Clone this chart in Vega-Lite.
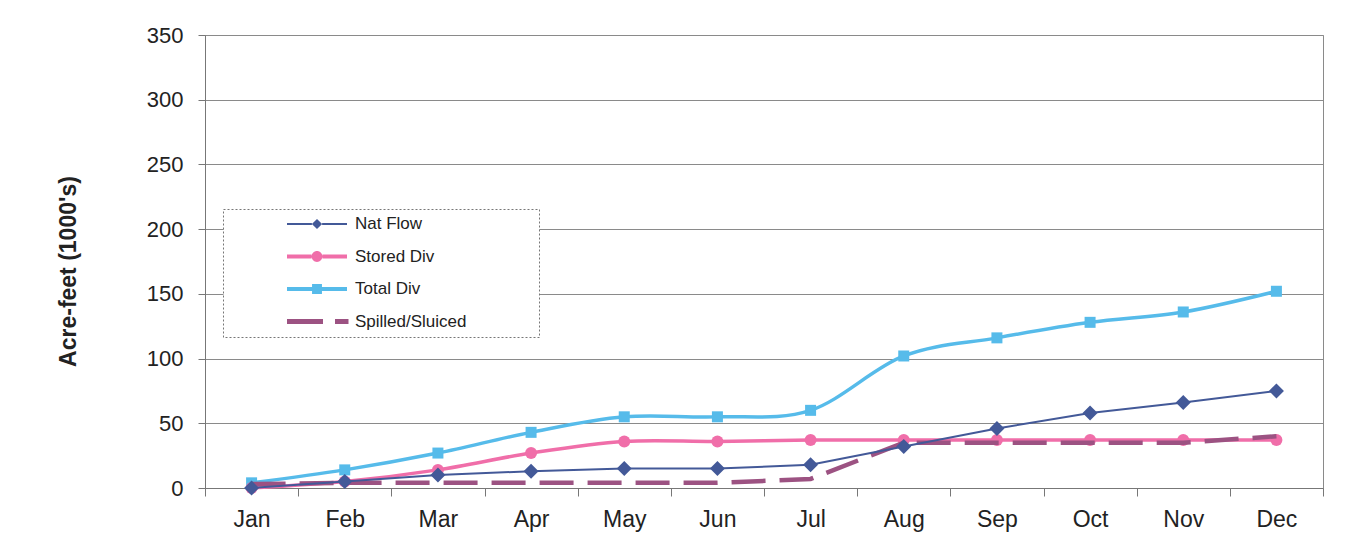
{
  "$schema": "https://vega.github.io/schema/vega-lite/v6.json",
  "width": 1118,
  "height": 453,
  "autosize": {"type": "none"},
  "padding": {"left": 205, "top": 35, "right": 24, "bottom": 67},
  "background": "white",
  "config": {
    "view": {"stroke": "#8a8a8a", "strokeWidth": 1},
    "font": "Liberation Sans"
  },
  "data": {
    "values": [
      {"month": "Jan", "series": "Nat Flow", "value": 0},
      {"month": "Feb", "series": "Nat Flow", "value": 5},
      {"month": "Mar", "series": "Nat Flow", "value": 10},
      {"month": "Apr", "series": "Nat Flow", "value": 13},
      {"month": "May", "series": "Nat Flow", "value": 15},
      {"month": "Jun", "series": "Nat Flow", "value": 15},
      {"month": "Jul", "series": "Nat Flow", "value": 18},
      {"month": "Aug", "series": "Nat Flow", "value": 32},
      {"month": "Sep", "series": "Nat Flow", "value": 46},
      {"month": "Oct", "series": "Nat Flow", "value": 58},
      {"month": "Nov", "series": "Nat Flow", "value": 66},
      {"month": "Dec", "series": "Nat Flow", "value": 75},
      {"month": "Jan", "series": "Stored Div", "value": 0},
      {"month": "Feb", "series": "Stored Div", "value": 5},
      {"month": "Mar", "series": "Stored Div", "value": 14},
      {"month": "Apr", "series": "Stored Div", "value": 27},
      {"month": "May", "series": "Stored Div", "value": 36},
      {"month": "Jun", "series": "Stored Div", "value": 36},
      {"month": "Jul", "series": "Stored Div", "value": 37},
      {"month": "Aug", "series": "Stored Div", "value": 37},
      {"month": "Sep", "series": "Stored Div", "value": 37},
      {"month": "Oct", "series": "Stored Div", "value": 37},
      {"month": "Nov", "series": "Stored Div", "value": 37},
      {"month": "Dec", "series": "Stored Div", "value": 37},
      {"month": "Jan", "series": "Total Div", "value": 4},
      {"month": "Feb", "series": "Total Div", "value": 14},
      {"month": "Mar", "series": "Total Div", "value": 27},
      {"month": "Apr", "series": "Total Div", "value": 43},
      {"month": "May", "series": "Total Div", "value": 55},
      {"month": "Jun", "series": "Total Div", "value": 55},
      {"month": "Jul", "series": "Total Div", "value": 60},
      {"month": "Aug", "series": "Total Div", "value": 102},
      {"month": "Sep", "series": "Total Div", "value": 116},
      {"month": "Oct", "series": "Total Div", "value": 128},
      {"month": "Nov", "series": "Total Div", "value": 136},
      {"month": "Dec", "series": "Total Div", "value": 152},
      {"month": "Jan", "series": "Spilled/Sluiced", "value": 3},
      {"month": "Feb", "series": "Spilled/Sluiced", "value": 4},
      {"month": "Mar", "series": "Spilled/Sluiced", "value": 4},
      {"month": "Apr", "series": "Spilled/Sluiced", "value": 4},
      {"month": "May", "series": "Spilled/Sluiced", "value": 4},
      {"month": "Jun", "series": "Spilled/Sluiced", "value": 4},
      {"month": "Jul", "series": "Spilled/Sluiced", "value": 7},
      {"month": "Aug", "series": "Spilled/Sluiced", "value": 35},
      {"month": "Sep", "series": "Spilled/Sluiced", "value": 35},
      {"month": "Oct", "series": "Spilled/Sluiced", "value": 35},
      {"month": "Nov", "series": "Spilled/Sluiced", "value": 35},
      {"month": "Dec", "series": "Spilled/Sluiced", "value": 40}
    ]
  },
  "encoding": {
    "x": {
      "field": "month",
      "type": "ordinal",
      "sort": ["Jan", "Feb", "Mar", "Apr", "May", "Jun", "Jul", "Aug", "Sep", "Oct", "Nov", "Dec"],
      "bandPosition": 0.5,
      "scale": {"type": "band", "paddingInner": 0, "paddingOuter": 0},
      "axis": {
        "title": null,
        "labelAngle": 0,
        "tickBand": "extent",
        "labelFontSize": 23,
        "labelColor": "#222",
        "labelPadding": 12,
        "tickSize": 8,
        "tickColor": "#777",
        "domainColor": "#777",
        "grid": false
      }
    },
    "y": {
      "field": "value",
      "type": "quantitative",
      "scale": {"domain": [0, 350], "nice": false},
      "axis": {
        "title": "Acre-feet (1000's)",
        "titleFontSize": 23,
        "titleFontWeight": "bold",
        "titleColor": "#222",
        "titleX": -125,
        "titleY": 236,
        "values": [0, 50, 100, 150, 200, 250, 300, 350],
        "labelFontSize": 22,
        "labelColor": "#222",
        "labelPadding": 15,
        "tickSize": 7,
        "tickColor": "#777",
        "domainColor": "#777",
        "gridColor": "#8a8a8a",
        "gridOpacity": 1
      }
    }
  },
  "layer": [
    {
      "transform": [{"filter": "datum.series === 'Total Div'"}],
      "mark": {"type": "line", "color": "#56bbea", "strokeWidth": 3.5, "interpolate": "cardinal"}
    },
    {
      "transform": [{"filter": "datum.series === 'Total Div'"}],
      "mark": {"type": "point", "shape": "square", "filled": true, "opacity": 1, "color": "#56bbea", "size": 121}
    },
    {
      "transform": [{"filter": "datum.series === 'Stored Div'"}],
      "mark": {"type": "line", "color": "#f06ea9", "strokeWidth": 3.5, "interpolate": "cardinal"}
    },
    {
      "transform": [{"filter": "datum.series === 'Stored Div'"}],
      "mark": {"type": "point", "shape": "circle", "filled": true, "opacity": 1, "color": "#f06ea9", "size": 144}
    },
    {
      "transform": [{"filter": "datum.series === 'Spilled/Sluiced'"}],
      "mark": {"type": "line", "color": "#9c5282", "strokeWidth": 4.5, "strokeDash": [34, 14]}
    },
    {
      "transform": [{"filter": "datum.series === 'Nat Flow'"}],
      "mark": {"type": "line", "color": "#435998", "strokeWidth": 2}
    },
    {
      "transform": [{"filter": "datum.series === 'Nat Flow'"}],
      "mark": {"type": "point", "shape": "diamond", "filled": true, "opacity": 1, "color": "#435998", "size": 225}
    },
    {
      "mark": {"type": "point", "filled": true, "opacity": 0},
      "encoding": {
        "color": {
          "field": "series",
          "type": "nominal",
          "scale": {
            "domain": ["Nat Flow", "Stored Div", "Total Div", "Spilled/Sluiced"],
            "range": ["#435998", "#f06ea9", "#56bbea", "#9c5282"]
          },
          "legend": {
            "title": null,
            "orient": "none",
            "legendX": 18,
            "legendY": 174,
            "padding": 6,
            "rowPadding": 14.5,
            "clipHeight": 18,
            "symbolSize": 3600,
            "symbolOpacity": 1,
            "symbolStrokeWidth": 0,
            "symbolOffset": 58,
            "labelOffset": 8,
            "labelFontSize": 17,
            "labelLimit": 400,
            "labelColor": "#222",
            "labelExpr": "datum.label + '\u00a0\u00a0\u00a0\u00a0\u00a0\u00a0\u00a0\u00a0\u00a0\u00a0\u00a0\u00a0\u00a0\u00a0\u200b'",
            "strokeColor": "#777",
            "fillColor": "white",
            "encode": {"legend": {"update": {"strokeDash": {"value": [2, 2]}}}}
          }
        },
        "shape": {
          "field": "series",
          "type": "nominal",
          "scale": {
            "domain": ["Nat Flow", "Stored Div", "Total Div", "Spilled/Sluiced"],
            "range": [
              "M-1,-0.035H-0.17V0.035H-1Z M0.17,-0.035H1V0.035H0.17Z M0,-0.17L0.17,0L0,0.17L-0.17,0Z",
              "M-1,-0.065H-0.18V0.065H-1Z M0.18,-0.065H1V0.065H0.18Z M-0.18,0A0.18,0.18 0 1,0 0.18,0A0.18,0.18 0 1,0 -0.18,0Z",
              "M-1,-0.065H-0.165V0.065H-1Z M0.165,-0.065H1V0.065H0.165Z M-0.165,-0.165H0.165V0.165H-0.165Z",
              "M-1,-0.08H0.2V0.08H-1Z M0.6,-0.08H1.05V0.08H0.6Z"
            ]
          },
          "legend": {
            "title": null,
            "orient": "none",
            "legendX": 18,
            "legendY": 174,
            "padding": 6,
            "rowPadding": 14.5,
            "clipHeight": 18,
            "symbolSize": 3600,
            "symbolOpacity": 1,
            "symbolStrokeWidth": 0,
            "symbolOffset": 58,
            "labelOffset": 8,
            "labelFontSize": 17,
            "labelLimit": 400,
            "labelColor": "#222",
            "labelExpr": "datum.label + '\u00a0\u00a0\u00a0\u00a0\u00a0\u00a0\u00a0\u00a0\u00a0\u00a0\u00a0\u00a0\u00a0\u00a0\u200b'",
            "strokeColor": "#777",
            "fillColor": "white",
            "encode": {"legend": {"update": {"strokeDash": {"value": [2, 2]}}}}
          }
        }
      }
    }
  ]
}
